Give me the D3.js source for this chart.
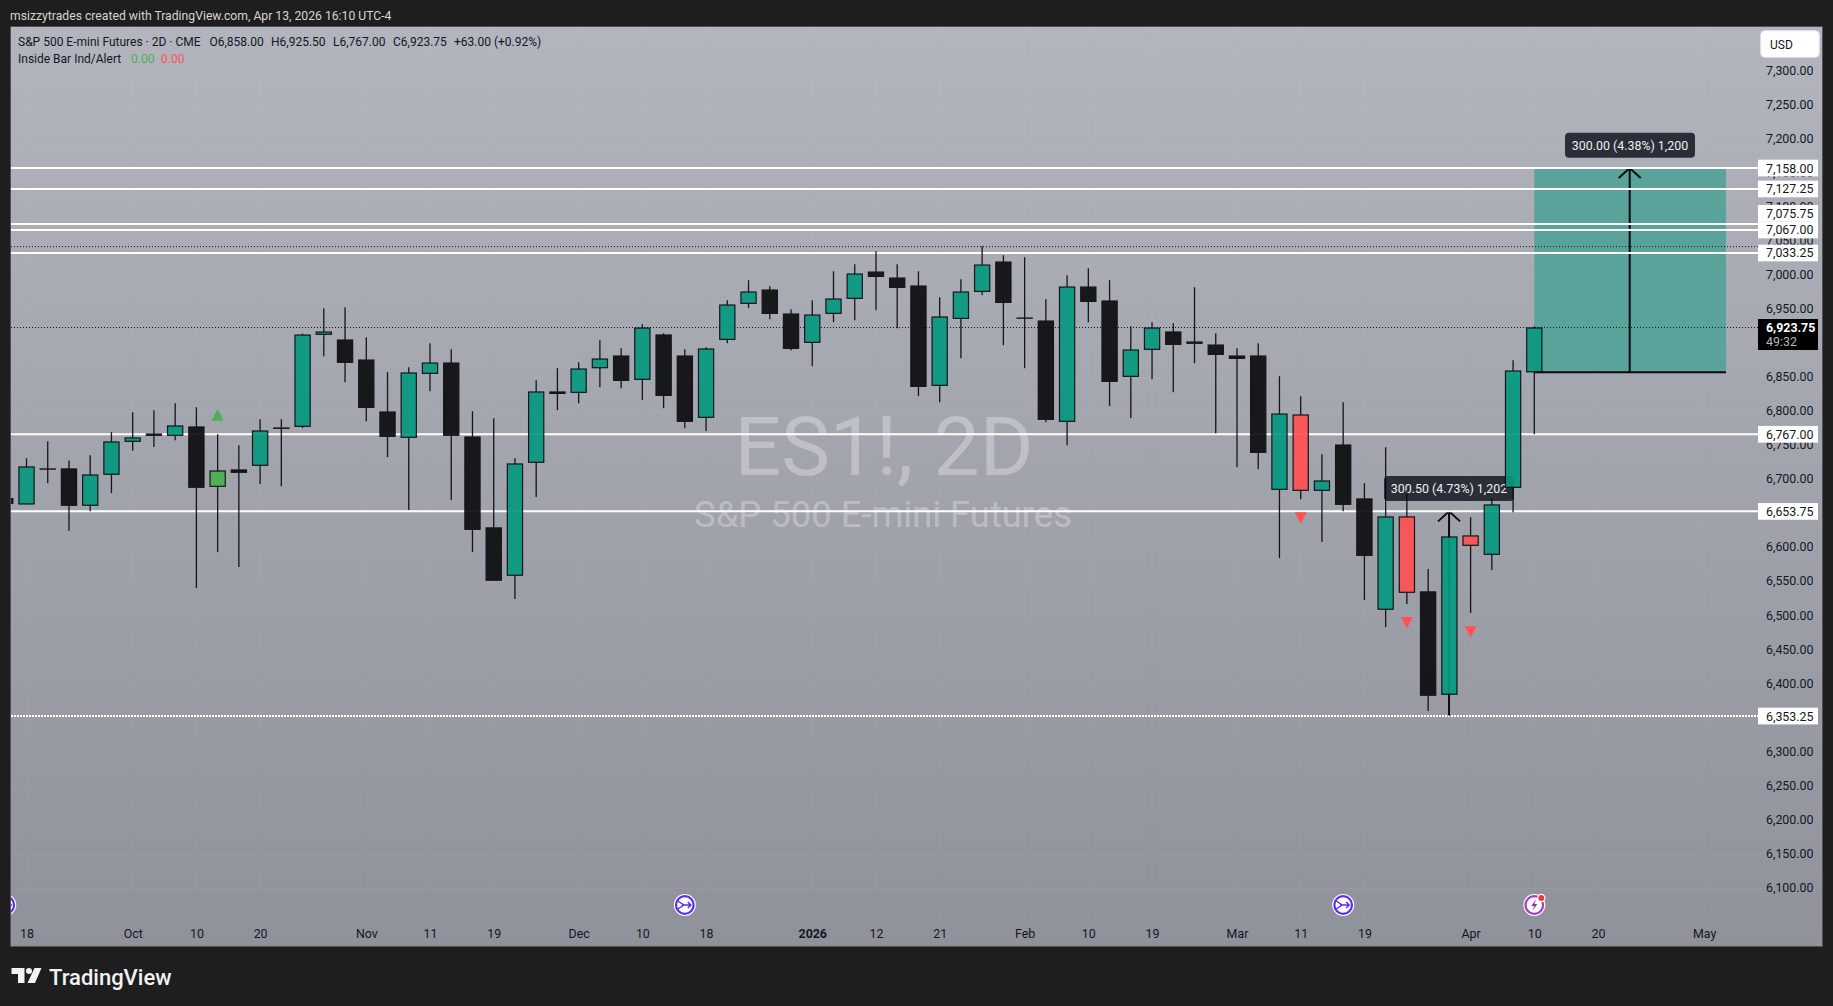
<!DOCTYPE html>
<meta charset="utf-8">
<style>
    html, body { margin: 0; padding: 0; background: #1e1e1e; overflow: hidden; }
    svg { display: block; }
    text { font-family: "Roboto", sans-serif; }
    .axis path { display: none; }
    .axis text { fill: #131722; font-family: "Roboto", sans-serif; font-size: 12.4px; }
</style>
<svg width="1833" height="1006"></svg>
<script src="https://d3js.org/d3.v7.min.js"></script>
<script>
    // first bar sits half outside the pane, so bars are numbered from -1
    var firstBar = -1;

    var opens = [6673.2, 6663.9, 6716.8, 6716.8, 6662, 6707.5, 6755.9, 6768.1, 6764.7, 6778.4, 6689.8, 6715.3, 6720.7, 6776.9, 6777.9, 6913, 6906.1, 6876.7, 6800.4, 6761.8, 6855.7, 6872.3, 6763.7, 6630.2, 6559.2, 6725.1, 6829.8, 6827.8, 6864,
        6882.6, 6846.9, 6913.5, 6882.6, 6791.1, 6905.6, 6958.5, 6979.5, 6944.3, 6901.2, 6943.8, 6965.8, 7005.9, 6997.1, 6985.4, 6838.1, 6936.5, 6976.1, 7020.6, 6938.4, 6934, 6785.3, 6983.9, 6963.4, 6851.3, 6891, 6917.9, 6899.8,
        6898.7, 6882.6, 6882.6, 6685.4, 6796, 6683.9, 6751.9, 6672.7, 6509.3, 6646.3, 6536.2, 6384.5, 6618.4, 6590, 6688.3, 6858];
    var highs = [6673.2, 6731.9, 6756.9, 6728.5, 6736.3, 6770.1, 6799.4, 6802.4, 6812.6, 6806.8, 6767.1, 6751, 6789.2, 6789.2, 6914.9, 6952.1, 6953.6, 6909.5, 6858.2, 6865.5, 6900.7, 6891.9, 6800.9, 6790.6, 6731.9, 6846.4, 6864, 6872.8, 6905.1,
        6893.4, 6928.6, 6915.4, 6891.9, 6894.9, 6963.9, 6993.2, 6984.4, 6950.6, 6963.9, 7006.4, 7016.7, 7035.8, 7016.7, 7006.4, 6968.3, 6994.7, 7043.1, 7029.9, 7027, 6965.3, 7000.5, 7010.8, 6993.2, 6925.7, 6931.6, 6930.1, 6982.9,
        6915.4, 6893.3, 6900.7, 6852.2, 6822.9, 6737.8, 6814.1, 6695.2, 6748, 6684.9, 6569, 6631, 6645.3, 6672.7, 6875.7, 6925.5];
    var lows = [6664.8, 6663.9, 6695.2, 6624.8, 6654.1, 6680.5, 6742.7, 6748.1, 6758.3, 6541.1, 6593.9, 6571.9, 6693.8, 6690.8, 6776, 6881.6, 6843.5, 6786.2, 6733.4, 6655.6, 6830.3, 6670.3, 6593.9, 6551.9, 6525, 6674.7, 6802.4, 6812.6, 6836.1,
        6834.7, 6817.1, 6805.3, 6776, 6771.6, 6900.7, 6952.1, 6936, 6890.5, 6867, 6931.6, 6934.5, 6949.2, 6922.8, 6822.9, 6814.1, 6878.7, 6971.2, 6897.8, 6864, 6784.8, 6751, 6931.6, 6808.3, 6790.7, 6847.9, 6828.8, 6871.4,
        6768.6, 6718.7, 6715.7, 6585.1, 6671.7, 6608.6, 6654.1, 6523.5, 6483.8, 6517.6, 6360.5, 6353.25, 6504.4, 6567.5, 6652.6, 6767];
    var closes = [6664.8, 6719.7, 6716.8, 6662, 6707.9, 6756.4, 6762.3, 6764.7, 6779.9, 6688.4, 6713.8, 6710.4, 6772.5, 6775, 6913.4, 6917.8, 6871.9, 6805.8, 6763.2, 6857.7, 6872.3, 6764.7, 6626.7, 6551.9, 6724.1, 6829.8, 6826.3, 6863.5, 6878.2,
        6845.4, 6923.7, 6823.4, 6785.3, 6892.9, 6957.5, 6976.6, 6943.8, 6892.4, 6942.8, 6966.3, 7003, 6998.1, 6982, 6836.6, 6939.9, 6976.6, 7016.2, 6959.9, 6938.4, 6788.2, 6983.9, 6961.4, 6844, 6891.4, 6923.7, 6898.3, 6903.2,
        6883.6, 6877.7, 6739.7, 6797.4, 6683.9, 6699.1, 6663.4, 6588.5, 6646.3, 6534.2, 6383, 6616.9, 6603.2, 6663.9, 6860.6, 6923.75];

    // bars recoloured by the Inside Bar indicator
    var greenBars = [9];
    var redBars = [60, 65, 68];

    var triUpBars = [9], triUpPrices = [6803.8];
    var triDownBars = [60, 65, 68], triDownPrices = [6652.6, 6498.5, 6485.3];

    var priceTicks = [7300, 7250, 7200, 7150, 7100, 7050, 7000, 6950, 6900, 6850, 6800, 6750, 6700, 6650, 6600, 6550, 6500, 6450, 6400, 6350, 6300, 6250, 6200, 6150, 6100];
    var timeTicks = [0, 5, 8, 11, 16, 19, 22, 26, 29, 32, 37, 40, 43, 47, 50, 53, 57, 60, 63, 68, 71, 74, 79];
    var timeLabels = ['18', 'Oct', '10', '20', 'Nov', '11', '19', 'Dec', '10', '18', '2026', '12', '21', 'Feb', '10', '19', 'Mar', '11', '19', 'Apr', '10', '20', 'May'];

    var solidLevels = [7158, 7127.25, 7075.75, 7067, 7033.25, 6767, 6653.75];
    var dottedLevel = 6353.25, blackDotLevel = 7042.5, lastPrice = 6923.75;
    var eventBars = [-1, 31, 62], flashBar = 71;

    var svg = d3.select('svg');
    var pane = {left: 11, top: 27, right: 1822, bottom: 946};
    var tagLeft = 1758, tagWidth = 60;

    // fitted on the drawn level lines and the last bar
    var x = d3.scaleLinear().domain([0, 71]).range([26.5, 1534.3]);
    var y = d3.scaleLinear().domain([7158, 6353.25]).range([168, 716]);

    var defs = svg.append('defs');
    var grad = defs.append('linearGradient').attr('id', 'bg').attr('x1', 0).attr('x2', 0).attr('y1', 0).attr('y2', 1);
    grad.append('stop').attr('offset', 0).attr('stop-color', '#b2b5be');
    grad.append('stop').attr('offset', 1).attr('stop-color', '#8f929b');
    defs.append('clipPath').attr('id', 'paneClip').append('rect')
        .attr('x', pane.left).attr('y', pane.top)
        .attr('width', pane.right - pane.left).attr('height', pane.bottom - pane.top);

    // header strip
    svg.append('text').attr('x', 10).attr('y', 19.5).attr('fill', '#d6d6d6').attr('font-size', 12.2)
        .text('msizzytrades created with TradingView.com, Apr 13, 2026 16:10 UTC-4');

    svg.append('rect')
        .attr('x', pane.left - 0.5).attr('y', pane.top - 0.5)
        .attr('width', pane.right - pane.left + 1).attr('height', pane.bottom - pane.top + 1)
        .attr('fill', 'url(#bg)').attr('stroke', '#505052');

    var plot = svg.append('g').attr('clip-path', 'url(#paneClip)');

    // faint grid
    plot.append('g').selectAll('line').data(priceTicks).enter().append('line')
        .attr('x1', pane.left).attr('x2', pane.right)
        .attr('y1', d => y(d)).attr('y2', d => y(d))
        .attr('stroke', 'rgba(255,255,255,0.05)');
    plot.append('g').selectAll('line').data(timeTicks).enter().append('line')
        .attr('x1', d => x(d)).attr('x2', d => x(d))
        .attr('y1', pane.top).attr('y2', pane.bottom - 26)
        .attr('stroke', 'rgba(255,255,255,0.05)');

    // watermark
    plot.append('text').attr('x', 884).attr('y', 475).attr('text-anchor', 'middle')
        .attr('font-size', 82).attr('fill', 'rgba(255,255,255,0.3)').text('ES1!, 2D');
    plot.append('text').attr('x', 883).attr('y', 527).attr('text-anchor', 'middle')
        .attr('font-size', 36.4).attr('fill', 'rgba(255,255,255,0.3)').text('S&P 500 E-mini Futures');

    // long position box
    plot.append('rect')
        .attr('x', x(71)).attr('width', 1726 - x(71))
        .attr('y', y(7158)).attr('height', y(6858) - y(7158))
        .attr('fill', '#5aa39b');
    plot.append('line').attr('x1', x(71)).attr('x2', 1726)
        .attr('y1', y(6858)).attr('y2', y(6858))
        .attr('stroke', '#0b0b0d').attr('stroke-width', 2);

    // measure arrows, the price span comes from the levels
    function arrow(px, from, to) {
        var g = plot.append('g').attr('fill', 'none').attr('stroke', '#0b0b0d').attr('stroke-width', 2);
        g.append('line').attr('x1', px).attr('x2', px).attr('y1', y(from)).attr('y2', y(to));
        g.append('path').attr('d', d3.line()([[px - 11, y(to) + 10], [px, y(to)], [px + 11, y(to) + 10]]));
    }
    arrow(1629.7, 6858, 7158);
    arrow(x(67) - 0.3, 6353.25, 6653.75);

    // white levels
    plot.append('g').selectAll('line').data(solidLevels).enter().append('line')
        .attr('x1', pane.left).attr('x2', tagLeft)
        .attr('y1', d => y(d)).attr('y2', d => y(d))
        .attr('stroke', '#fff').attr('stroke-width', 2);
    plot.append('line').attr('x1', pane.left).attr('x2', tagLeft)
        .attr('y1', y(dottedLevel)).attr('y2', y(dottedLevel))
        .attr('stroke', '#fff').attr('stroke-width', 2).attr('stroke-dasharray', '2 1');
    [blackDotLevel, lastPrice].forEach(function(p) {
        plot.append('line').attr('x1', pane.left).attr('x2', tagLeft)
            .attr('y1', y(p)).attr('y2', y(p))
            .attr('stroke', '#131722').attr('stroke-width', 1).attr('stroke-dasharray', '1 2');
    });

    function priceLabel(cx, cy, w, txt) {
        var g = plot.append('g');
        g.append('rect').attr('x', cx - w / 2).attr('y', cy - 12.5).attr('width', w).attr('height', 25)
            .attr('rx', 4).attr('fill', '#2a2e39');
        g.append('text').attr('x', cx).attr('y', cy + 4.5).attr('text-anchor', 'middle')
            .attr('font-size', 12.4).attr('fill', '#eee').text(txt);
    }
    priceLabel(1630, 145.3, 130, '300.00 (4.38%) 1,200');
    priceLabel(1449, 488.5, 130, '300.50 (4.73%) 1,202');

    // candles
    var barIdx = d3.range(opens.length);
    var candles = plot.append('g').attr('opacity', 0.93);
    candles.selectAll('.wick').data(barIdx).enter().append('line')
        .attr('class', 'wick')
        .attr('x1', i => x(i + firstBar)).attr('x2', i => x(i + firstBar))
        .attr('y1', i => y(highs[i])).attr('y2', i => y(lows[i]))
        .attr('stroke', '#0b0b0d').attr('stroke-width', 1.3);
    candles.selectAll('.body').data(barIdx).enter().append('rect')
        .attr('class', 'body')
        .attr('x', i => x(i + firstBar) - 7.6).attr('width', 15.2)
        .attr('y', i => y(Math.max(opens[i], closes[i])) + 0.5)
        .attr('height', i => Math.max(0.2, Math.abs(y(opens[i]) - y(closes[i])) - 1))
        .attr('fill', function(i) {
            var bar = i + firstBar;
            if (greenBars.includes(bar)) return '#4caf50';
            if (redBars.includes(bar)) return '#ff5252';
            return closes[i] >= opens[i] ? '#089981' : '#0d0e11';
        })
        .attr('stroke', '#0b0b0d').attr('stroke-width', 1.2);

    // indicator triangles
    var triUp = d3.line()([[0, 0], [6, 11.5], [-6, 11.5]]) + 'Z';
    var triDown = d3.line()([[-6, 0], [6, 0], [0, 11.5]]) + 'Z';
    plot.selectAll('.tri-up').data(triUpBars).enter().append('path')
        .attr('class', 'tri-up').attr('d', triUp).attr('fill', '#4caf50')
        .attr('transform', (d, i) => 'translate(' + x(d) + ',' + y(triUpPrices[i]) + ')');
    plot.selectAll('.tri-down').data(triDownBars).enter().append('path')
        .attr('class', 'tri-down').attr('d', triDown).attr('fill', '#ff5252')
        .attr('transform', (d, i) => 'translate(' + x(d) + ',' + y(triDownPrices[i]) + ')');

    // event icons
    function eventIcon(bar, color) {
        var g = plot.append('g').attr('transform', 'translate(' + x(bar) + ',905)');
        g.append('circle').attr('r', 11).attr('fill', '#fff');
        g.append('circle').attr('r', 8.8).attr('fill', '#fff').attr('stroke', color).attr('stroke-width', 2.2);
        return g;
    }
    eventBars.forEach(function(b) {
        var g = eventIcon(b, '#5b2cf6');
        g.append('path').attr('d', 'M-7 -4L-1 0L-7 4M-3 0H6M3 -3L6 0L3 3')
            .attr('fill', 'none').attr('stroke', '#5b2cf6').attr('stroke-width', 1.5);
    });
    var flash = eventIcon(flashBar, '#a13bc4');
    flash.append('path').attr('d', 'M2 -6L-3 1H0L-2 6L3 -1H0Z').attr('fill', '#9c27b0');
    flash.append('circle').attr('cx', 7).attr('cy', -7).attr('r', 4.2).attr('fill', '#fff');
    flash.append('circle').attr('cx', 7).attr('cy', -7).attr('r', 3).attr('fill', '#f23645');

    // axes
    svg.append('g').attr('class', 'axis')
        .attr('transform', 'translate(1760,-1)')
        .call(d3.axisRight(y).tickValues(priceTicks).tickSize(0).tickPadding(6).tickFormat(d3.format(',.2f')));
    svg.append('g').attr('class', 'axis')
        .attr('transform', 'translate(0,925)')
        .call(d3.axisBottom(x).tickValues(timeTicks).tickSize(0).tickPadding(4).tickFormat((d, i) => timeLabels[i]))
        .selectAll('text')
        .attr('font-weight', d => d === 37 ? 700 : 400);

    // level tags, 7,075.75 gets pushed up by its neighbour like on the site
    var tags = svg.append('g');
    solidLevels.concat([dottedLevel]).forEach(function(p) {
        var cy = y(p) + (p === 7075.75 ? -10.7 : 0);
        tags.append('rect').attr('x', tagLeft).attr('y', cy - 8.3).attr('width', tagWidth).attr('height', 16.7).attr('fill', '#fff');
        tags.append('text').attr('x', 1766).attr('y', cy + 4.5).attr('font-size', 12.4).attr('fill', '#131722')
            .text(d3.format(',.2f')(p));
    });
    tags.append('rect').attr('x', tagLeft).attr('y', 319).attr('width', tagWidth).attr('height', 31).attr('fill', '#000');
    tags.append('text').attr('x', 1766).attr('y', 332).attr('font-size', 12.4).attr('font-weight', 700).attr('fill', '#fff')
        .text(d3.format(',.2f')(lastPrice));
    tags.append('text').attr('x', 1766).attr('y', 345.5).attr('font-size', 12.4).attr('fill', '#b8b8b8').text('49:32');

    tags.append('rect').attr('x', 1760.7).attr('y', 30.7).attr('width', 58.6).attr('height', 26.6).attr('rx', 4)
        .attr('fill', '#fff').attr('stroke', '#e0e3eb');
    tags.append('text').attr('x', 1770).attr('y', 49).attr('font-size', 12).attr('fill', '#131722').text('USD');

    // legend
    var legend = [
        ['S&P 500 E-mini Futures · 2D · CME', 18, 46, '#131722'],
        ['O6,858.00', 209.5, 46, '#131722'],
        ['H6,925.50', 271, 46, '#131722'],
        ['L6,767.00', 333, 46, '#131722'],
        ['C6,923.75', 393, 46, '#131722'],
        ['+63.00 (+0.92%)', 454, 46, '#131722'],
        ['Inside Bar Ind/Alert', 18, 63, '#131722'],
        ['0.00', 131, 63, '#4caf50'],
        ['0.00', 161, 63, '#ff5252']
    ];
    svg.append('g').selectAll('text').data(legend).enter().append('text')
        .attr('x', d => d[1]).attr('y', d => d[2]).attr('fill', d => d[3]).attr('font-size', 12)
        .text(d => d[0]);

    // footer logo
    var logo = svg.append('g').attr('fill', '#f2f2f2');
    logo.append('path').attr('d', 'M11.5 968h13v15h-6.5v-9h-6.5z');
    logo.append('circle').attr('cx', 29).attr('cy', 971).attr('r', 3);
    logo.append('path').attr('d', 'M34.5 968h7l-6.5 15h-7.5z');
    logo.append('text').attr('x', 49).attr('y', 985).attr('font-size', 22).attr('font-weight', 500)
        .attr('font-family', 'Inter').text('TradingView');
</script>
